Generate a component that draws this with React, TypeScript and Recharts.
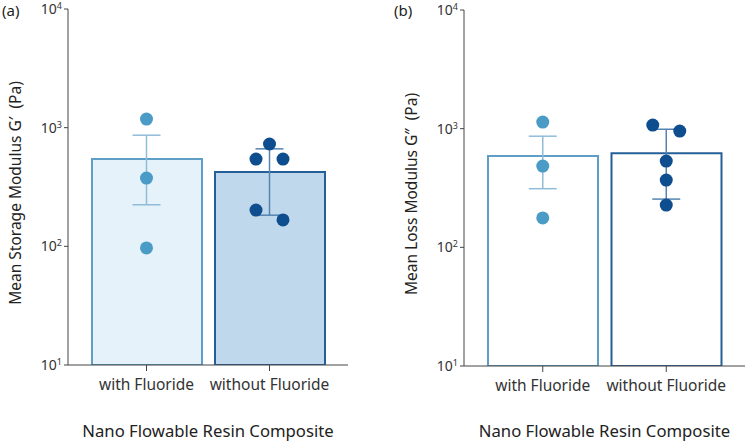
import React from 'react';
import { ComposedChart, Bar, Cell, XAxis, YAxis, Scatter, ErrorBar } from 'recharts';

const categories = ['with Fluoride', 'without Fluoride'];

// (a) storage modulus G'
const storageMean = [544, 423];
const storageSem = [320, 240];
const storageWithF = [1181, 376, 97];
const storageWithoutF = [728, 544, 544, 202, 167];

// (b) loss modulus G''
const lossMean = [588, 622];
const lossSem = [276, 367];
const lossWithF = [1137, 484, 177];
const lossWithoutF = [1072, 955, 533, 369, 227];

const yTicks = [10, 100, 1000, 10000];

const FONT = '"Noto Sans", sans-serif';
const AXIS = '#444';
const LIGHT = { fill: '#e5f2fa', stroke: '#5f9ec7', dot: '#4b9bc7', err: '#90bcd8' };
const DARK = { fill: '#c0d8ec', stroke: '#245f98', dot: '#0f4e8e', err: '#5584b2' };

// simple beeswarm: dots closer than ~0.14 decades share a row and spread sideways
const swarm = (cat: string, values: number[]) => {
  const sorted = [...values].sort((a, b) => b - a);
  const rows: number[][] = [];
  sorted.forEach((v) => {
    const last = rows[rows.length - 1];
    if (last && Math.log10(last[last.length - 1]) - Math.log10(v) < 0.14) last.push(v);
    else rows.push([v]);
  });
  return rows.flatMap((row) =>
    row.map((v, i) => ({
      cat,
      value: v,
      slot: row.length % 2 ? [0, -1, 1, -2, 2][i] : [-1, 1, -2, 2][i],
    }))
  );
};

const dotShape = (color: string) => (props: any) => {
  const { cx, cy, payload } = props;
  if (cx == null || cy == null) return <g />;
  return <circle cx={cx + payload.slot * 13.5} cy={cy} r={6.5} fill={color} />;
};

const LogTick = (props: any) => {
  const { x, y, payload } = props;
  const exp = Math.round(Math.log10(payload.value));
  return (
    <text x={x} y={y} dy={5} textAnchor="end" fill="#333" fontFamily={FONT} fontSize={14}>
      10
      <tspan fontSize={9} dy={-5}>{exp}</tspan>
    </text>
  );
};

interface PanelProps {
  means: number[];
  sems: number[];
  withF: number[];
  withoutF: number[];
  yTitle: string;
  filled: boolean;
  yAxisWidth: number;
  top: number;
  right: number;
  xHeight: number;
}

function Panel({ means, sems, withF, withoutF, yTitle, filled, yAxisWidth, top, right, xHeight }: PanelProps) {
  const data = categories.map((cat, i) => ({ cat, value: means[i], sem: sems[i] }));
  const styles = [LIGHT, DARK];

  return (
    <ComposedChart
      width={376}
      height={448}
      data={data}
      margin={{ top, right, bottom: 0, left: 0 }}
      style={{ overflow: 'visible' }}
    >
      <XAxis
        dataKey="cat"
        allowDuplicatedCategory={false}
        height={xHeight}
        padding={{ left: 17, right: 17 }}
        stroke={AXIS}
        tickLine={{ stroke: AXIS }}
        tickSize={6}
        tickMargin={8}
        tick={{ fill: '#333', fontSize: 15.5, fontFamily: FONT }}
        label={{
          content: ({ viewBox }: any) => (
            <text
              x={viewBox.x + viewBox.width / 2}
              y={437}
              textAnchor="middle"
              fill="#222"
              fontFamily={FONT}
              fontSize={16.7}
            >
              Nano Flowable Resin Composite
            </text>
          ),
        }}
      />
      <YAxis
        type="number"
        scale="log"
        domain={[10, 10000]}
        allowDataOverflow
        ticks={yTicks}
        width={yAxisWidth}
        stroke={AXIS}
        tickLine={{ stroke: AXIS }}
        tickSize={4}
        tickMargin={2}
        tick={<LogTick />}
        label={{
          content: ({ viewBox }: any) => {
            const cx = viewBox.x + (yAxisWidth - 53);
            const cy = viewBox.y + viewBox.height / 2 + 6;
            return (
              <text
                x={cx}
                y={cy}
                transform={`rotate(-90, ${cx}, ${cy})`}
                textAnchor="middle"
                dominantBaseline="central"
                fill="#222"
                fontFamily={FONT}
                fontSize={15.5}
                style={{ whiteSpace: 'pre' }}
              >
                {yTitle}
              </text>
            );
          },
        }}
      />
      <Bar dataKey="value" barSize={110} isAnimationActive={false} strokeWidth={2}>
        {data.map((d, i) => (
          <Cell
            key={d.cat}
            fill={filled ? styles[i].fill : '#ffffff'}
            stroke={styles[i].stroke}
          />
        ))}
      </Bar>
      {data.map((d, i) => (
        <Scatter
          key={`err-${d.cat}`}
          data={[d]}
          dataKey="value"
          isAnimationActive={false}
          shape={() => <g />}
        >
          <ErrorBar
            dataKey="sem"
            direction="y"
            width={14}
            stroke={styles[i].err}
            strokeWidth={1.5}
            isAnimationActive={false}
          />
        </Scatter>
      ))}
      <Scatter
        data={swarm(categories[0], withF)}
        dataKey="value"
        isAnimationActive={false}
        shape={dotShape(LIGHT.dot)}
      />
      <Scatter
        data={swarm(categories[1], withoutF)}
        dataKey="value"
        isAnimationActive={false}
        shape={dotShape(DARK.dot)}
      />
    </ComposedChart>
  );
}

export default function App() {
  const tag: React.CSSProperties = {
    position: 'absolute',
    top: 0,
    fontFamily: FONT,
    fontSize: 15,
    color: '#222',
  };
  return (
    <div style={{ position: 'absolute', left: 0, top: 0, width: 752, height: 448, background: '#fff' }}>
      <div style={{ position: 'absolute', left: 0, top: 0 }}>
        <Panel
          means={storageMean}
          sems={storageSem}
          withF={storageWithF}
          withoutF={storageWithoutF}
          yTitle="Mean Storage Modulus G′  (Pa)"
          filled
          yAxisWidth={68}
          top={9}
          right={28}
          xHeight={83}
        />
      </div>
      <div style={{ position: 'absolute', left: 376, top: 0 }}>
        <Panel
          means={lossMean}
          sems={lossSem}
          withF={lossWithF}
          withoutF={lossWithoutF}
          yTitle="Mean Loss Modulus G″  (Pa)"
          filled={false}
          yAxisWidth={88}
          top={10}
          right={7}
          xHeight={82}
        />
      </div>
      <div style={{ ...tag, left: 2 }}>(a)</div>
      <div style={{ ...tag, left: 394 }}>(b)</div>
    </div>
  );
}
